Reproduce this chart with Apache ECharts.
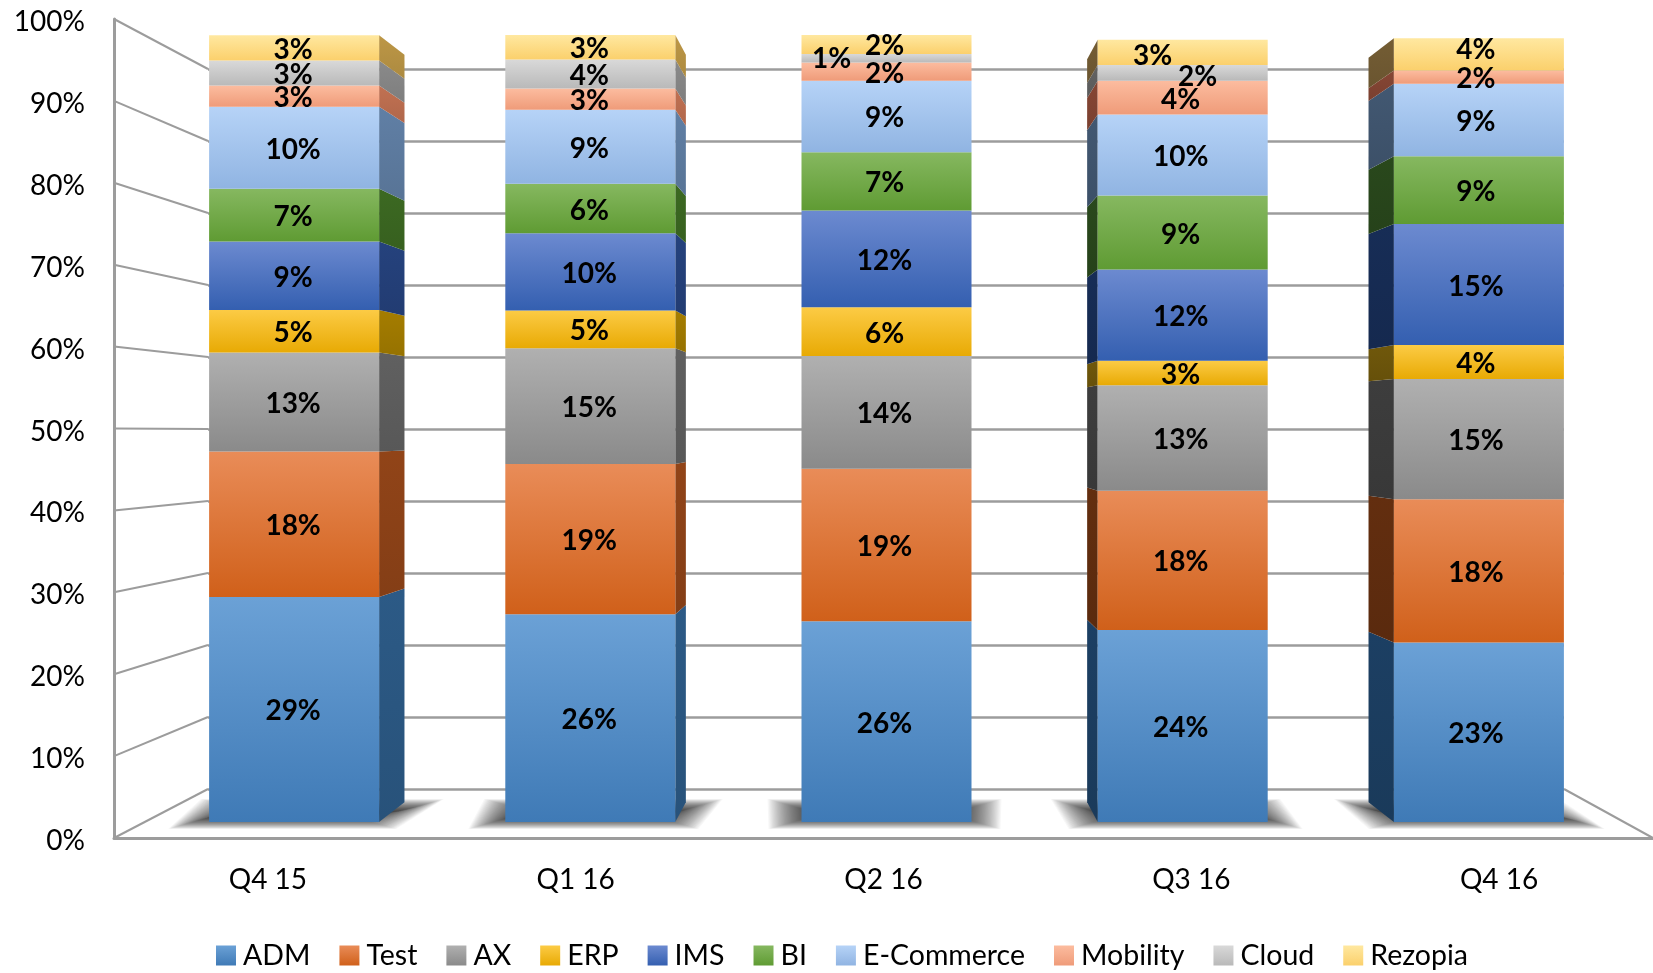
<!DOCTYPE html>
<html><head><meta charset="utf-8"><style>html,body{margin:0;background:#fff}#c{width:1653px;height:973px}</style>
<script src="https://cdn.jsdelivr.net/npm/echarts@6/dist/echarts.min.js"></script></head>
<body><div id="c"></div><script>
const quarters=['Q4 15','Q1 16','Q2 16','Q3 16','Q4 16'];
const names=['ADM','Test','AX','ERP','IMS','BI','E-Commerce','Mobility','Cloud','Rezopia'];
const ADM=[28.6,26.4,25.5,24.4,22.8];
const Test=[18.47,19.1,19.4,17.7,18.2];
const AX=[12.6,14.7,14.3,13.4,15.3];
const ERP=[5.4,4.8,6.2,3.1,4.3];
const IMS=[8.7,9.8,12.3,11.6,15.4];
const BI=[6.7,6.3,7.4,9.4,8.6];
const ECommerce=[10.4,9.4,9.1,10.3,9.2];
const Mobility=[2.7,2.7,2.3,4.3,1.7];
const Cloud=[3.2,3.7,1.1,2.0,0];
const Rezopia=[3.2,3.1,2.4,3.2,4.1];
const seriesValues=[ADM,Test,AX,ERP,IMS,BI,ECommerce,Mobility,Cloud,Rezopia];
const yTicks=[0,10,20,30,40,50,60,70,80,90,100];

const topCol=['#6ba1d6','#e98c58','#b0b0b0','#fccb45','#6c8ad0','#86b860','#b6d3f7','#fcbc9f','#d9d9d9','#ffe8a0'];
const botCol=['#3f7ab6','#d0601a','#8a8a8a','#e8aa04','#345fb0','#5f9b33','#90b4e2','#ef9b79','#b9b9b9','#fbd06c'];
const sideR=['#28527a','#843e16','#585858','#967200','#223c72','#37601f','#587496','#b0674b','#7e7e7e','#ac8a40'];
const sideL=['#1a3a5a','#5a2a0e','#383838','#66500a','#15294f','#26421a','#3c5068','#7a4030','#5a5a5a','#6a5530'];
const labelNudge={'2,8':[-53,-1],'3,9':[-28,2],'3,8':[17,2],'4,9':[0,-6]};
const labelShiftX=[-1,-1,-2,-2,-3];

const FRONT={left:114,right:0,top:19,bottom:135};
const BACK={left:208,right:89,top:69,bottom:184};
const BARS={left:146,right:26,top:35,bottom:151};
const VP={x:886.5,y:428,k:0.05};
const grad=(a,b)=>new echarts.graphic.LinearGradient(0,0,0,1,[{offset:0,color:a},{offset:1,color:b}]);
const font='Lato';
const lineCol='#9c9c9c';

const chart=echarts.init(document.getElementById('c'),null,{renderer:'canvas'});
const back=(x,y,k)=>[x+(VP.x-x)*k,y+(VP.y-y)*k];

const sideData=[];
quarters.forEach((q,c)=>{let s=0;seriesValues.forEach((vals,i)=>{if(vals[c]>0)sideData.push([c,s,s+vals[c],i]);s+=vals[c];});});
const barW=170;

const bars=names.map((n,i)=>({
  name:n,type:'bar',stack:'all',xAxisIndex:2,yAxisIndex:2,barWidth:barW,z:5,
  itemStyle:{color:grad(topCol[i],botCol[i])},
  label:{show:true,position:'inside',color:'#000',fontFamily:font,fontWeight:'bold',fontSize:28,
    formatter:p=>p.value>0?Math.round(p.value)+'%':''},
  emphasis:{disabled:true},
  data:seriesValues[i].map((v,c)=>{const o=labelNudge[c+','+i]||[0,0];return {value:v,label:{offset:[o[0]+labelShiftX[c],o[1]+2]}};})
}));

const option={
  animation:false,backgroundColor:'#fff',
  textStyle:{fontFamily:font},
  legend:{data:names,left:211,top:936,itemWidth:20,itemHeight:20,itemGap:29,icon:'rect',
    textStyle:{fontFamily:font,fontSize:28.5,color:'#000',padding:[0,0,0,2]}},
  grid:[Object.assign({},FRONT),Object.assign({},BACK),Object.assign({},BARS)],
  xAxis:[
    {gridIndex:0,type:'category',data:quarters,axisTick:{show:false},
      axisLine:{lineStyle:{color:lineCol,width:3}},
      axisLabel:{color:'#000',fontFamily:font,fontSize:28,margin:28}},
    {gridIndex:1,type:'category',data:quarters,show:false},
    {gridIndex:2,type:'category',data:quarters,show:false}
  ],
  yAxis:[
    {gridIndex:0,type:'value',min:0,max:100,interval:10,
      axisLine:{show:true,lineStyle:{color:lineCol,width:3}},axisTick:{show:false},splitLine:{show:false},
      axisLabel:{formatter:'{value}%',color:'#000',fontFamily:font,fontSize:28,margin:29,verticalAlign:'top',lineHeight:6}},
    {gridIndex:1,type:'value',min:0,max:100,interval:10,
      axisLine:{show:false},axisTick:{show:false},axisLabel:{show:false},
      splitLine:{show:true,lineStyle:{color:lineCol,width:2.5}}},
    {gridIndex:2,type:'value',min:0,max:100,show:false}
  ],
  series:[
    {type:'custom',xAxisIndex:0,yAxisIndex:0,z:1,silent:true,data:yTicks.map(v=>[0,v]),
      encode:{x:0,y:1},
      renderItem:(p,api)=>{
        const v=api.value(1);
        const fy=chart.convertToPixel({yAxisIndex:0},v), by=chart.convertToPixel({yAxisIndex:1},v);
        const L=FRONT.left,BL=BACK.left;
        const ch=[{type:'line',shape:{x1:L,y1:fy,x2:BL,y2:by},style:{stroke:lineCol,lineWidth:2}}];
        if(v===0){const W=chart.getWidth();ch.push({type:'line',shape:{x1:W-FRONT.right,y1:fy,x2:W-BACK.right,y2:by},style:{stroke:lineCol,lineWidth:2}});}
        return {type:'group',children:ch};
      }},
    {type:'custom',xAxisIndex:2,yAxisIndex:2,z:2,silent:true,data:quarters.map((q,c)=>[c,0]),encode:{x:0,y:1},
      renderItem:(p,api)=>{
        const pt=api.coord([api.value(0),0]);
        const xL=pt[0]-barW/2,xR=pt[0]+barW/2,y=pt[1];
        const u=(VP.x-pt[0])/593;
        const layers=36,ch=[];
        for(let n=0;n<layers;n++){
          const t=n/(layers-1);
          const ix=t*42,top=y-23+t*12,bot=y+7-t*12;
          ch.push({type:'polygon',shape:{points:[
            [xL-33-8*u+ix,bot],[xL-34+26*u+ix,top],[xR+30+35*u-ix,top],[xR+29-12*u-ix,bot]
          ]},style:{fill:'rgba(0,0,0,0.03)'}});
        }
        return {type:'group',children:ch};
      }},
    {type:'custom',xAxisIndex:2,yAxisIndex:2,z:3,silent:true,data:sideData,encode:{x:0,y:[1,2]},
      renderItem:(p,api)=>{
        const c=api.value(0),a=api.coord([c,api.value(1)]),b=api.coord([c,api.value(2)]),i=api.value(3);
        const xL=a[0]-barW/2,xR=a[0]+barW/2;
        let x,col;
        if(xR<VP.x){x=xR;col=sideR[i];}else if(xL>VP.x){x=xL;col=sideL[i];}else return null;
        const a2=back(x,a[1],VP.k),b2=back(x,b[1],VP.k);
        return {type:'polygon',shape:{points:[[x,a[1]],[x,b[1]],b2,a2]},
          style:{fill:grad(echarts.color.lift(col,-0.1),col)}};
      }},
    ...bars
  ]
};
chart.setOption(option);
</script></body></html>
